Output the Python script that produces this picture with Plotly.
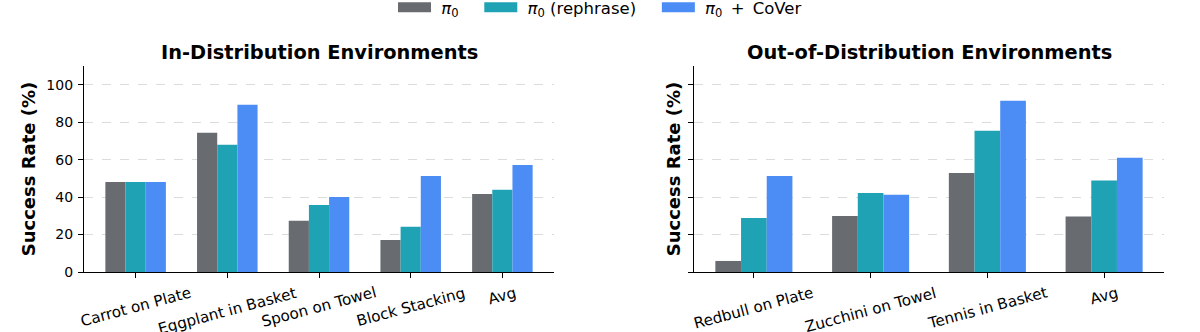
import plotly.graph_objects as go

# ---- data ----
id_categories = ["Carrot on Plate", "Eggplant in Basket", "Spoon on Towel", "Block Stacking", "Avg"]
id_pi0 = [48.1, 74.3, 27.3, 17.1, 41.7]
id_rephrase = [48.1, 67.9, 35.8, 24.1, 43.9]
id_cover = [48.1, 89.3, 40.1, 51.3, 57.2]

ood_categories = ["Redbull on Plate", "Zucchini on Towel", "Tennis in Basket", "Avg"]
ood_pi0 = [5.9, 29.9, 52.9, 29.6]
ood_rephrase = [28.9, 42.2, 75.4, 48.8]
ood_cover = [51.3, 41.2, 91.4, 61.0]

series_names = ["<i>π</i><sub>0</sub>", "<i>π</i><sub>0</sub> (rephrase)", "<i>π</i><sub>0</sub>\u2002+\u2002CoVer"]
colors = ["#686b70", "#20a2b5", "#4c8cf5"]
yticks = [0, 20, 40, 60, 80, 100]
titles = ["In-Distribution Environments", "Out-of-Distribution Environments"]

FONT = "DejaVu Sans"
W, H = 1200, 332
LEAD = "\u00a0"                    # gap between legend handle and text
PAD = "\u00a0\u00a0\u00a0"         # spacing after legend entries

fig = go.Figure()
for i, (vals, name, c) in enumerate(zip([id_pi0, id_rephrase, id_cover], series_names, colors)):
    fig.add_trace(go.Bar(x=id_categories, y=vals, name=name, marker=dict(color=c, line=dict(width=0)),
                         xaxis="x", yaxis="y", offsetgroup=str(i), showlegend=False))
for i, (vals, name, c) in enumerate(zip([ood_pi0, ood_rephrase, ood_cover], series_names, colors)):
    fig.add_trace(go.Bar(x=ood_categories, y=vals, name=name, marker=dict(color=c, line=dict(width=0)),
                         xaxis="x2", yaxis="y2", offsetgroup=str(i), showlegend=False))
# legend entries (wide rectangular handles like the reference)
for k, (name, c) in enumerate(zip(series_names, colors)):
    fig.add_trace(go.Scatter(x=[None], y=[None], mode="lines",
                             name=LEAD + name + (PAD if k < len(series_names) - 1 else ""),
                             line=dict(color=c, width=12), xaxis="x", yaxis="y"))

ydom = [1 - 272 / H, 1 - 66 / H]
xdom1 = [84 / W, 554 / W]
xdom2 = [694 / W, 1164 / W]

xcommon = dict(showline=True, linecolor="black", linewidth=1.2, ticks="outside", ticklen=5,
               tickcolor="black", showgrid=False, showticklabels=False, zeroline=False,
               automargin=False, fixedrange=True)
ycommon = dict(range=[0, 110], tickvals=yticks, showline=True, linecolor="black", linewidth=1.2,
               ticks="outside", ticklen=5, tickcolor="black", showgrid=True, gridcolor="#dcdcdc",
               griddash="dash", gridwidth=1, zeroline=False, automargin=False, fixedrange=True,
               ticklabelstandoff=2,
               tickfont=dict(size=14, color="black", family=FONT))

fig.update_layout(
    width=W, height=H,
    margin=dict(l=0, r=0, t=0, b=0, autoexpand=False),
    plot_bgcolor="white", paper_bgcolor="white",
    font=dict(family=FONT, color="black"),
    barmode="group", bargap=0.34, bargroupgap=0,
    xaxis=dict(domain=xdom1, anchor="y", range=[-0.563, 4.563], **xcommon),
    xaxis2=dict(domain=xdom2, anchor="y2", range=[-0.513, 3.513], **xcommon),
    yaxis=dict(domain=ydom, anchor="x",
               title=dict(text="<b>Success Rate (%)</b>", font=dict(size=18, family=FONT), standoff=6),
               **ycommon),
    yaxis2=dict(domain=ydom, anchor="x2", showticklabels=False,
                title=dict(text="<b>Success Rate (%)</b>", font=dict(size=18, family=FONT), standoff=2),
                **ycommon),
    legend=dict(orientation="h", x=0.5, xanchor="center", y=1 + 10 / H, yanchor="top",
                font=dict(size=16.5, family=FONT), bgcolor="rgba(0,0,0,0)",
                itemwidth=33, tracegroupgap=0),
)

annotations = []
for dom, t in zip([xdom1, xdom2], titles):
    annotations.append(dict(text=f"<b>{t}</b>", x=(dom[0] + dom[1]) / 2, y=1 - 53 / H, xref="paper", yref="paper",
                            xanchor="center", yanchor="middle", showarrow=False,
                            font=dict(size=19.4, family=FONT, color="black")))
for cats, xr in [(id_categories, "x"), (ood_categories, "x2")]:
    for c in cats:
        annotations.append(dict(text=c, x=c, y=1 - 281 / H, xref=xr, yref="paper", xanchor="center",
                                yanchor="top", textangle=-15, showarrow=False,
                                font=dict(size=15.2, family=FONT, color="black")))
fig.update_layout(annotations=annotations)

fig.write_html("out.html")
